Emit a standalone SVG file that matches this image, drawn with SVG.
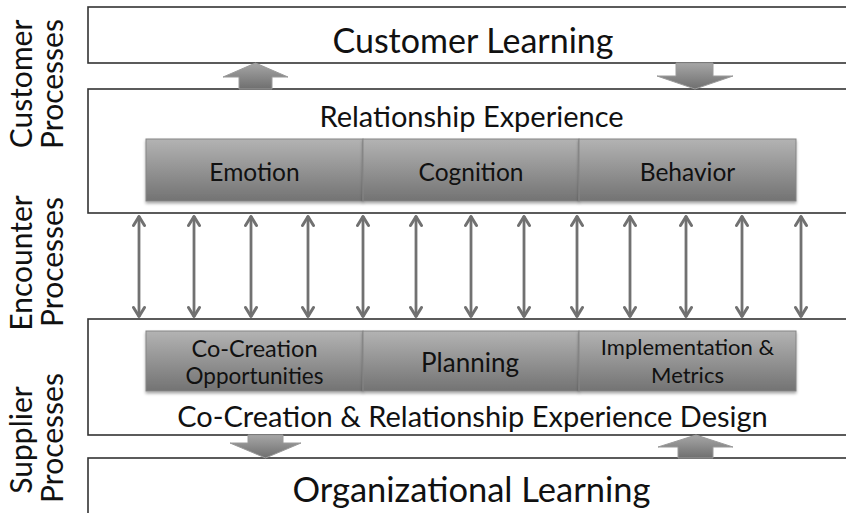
<svg xmlns="http://www.w3.org/2000/svg" width="846" height="513" viewBox="0 0 846 513">
<defs>
<linearGradient id="barGrad" x1="0" y1="0" x2="0" y2="1">
<stop offset="0" stop-color="#b3b3b3"/>
<stop offset="1" stop-color="#737373"/>
</linearGradient>
<linearGradient id="blockGrad" x1="0" y1="0" x2="0" y2="1">
<stop offset="0" stop-color="#a6a6a6"/>
<stop offset="1" stop-color="#6f6f6f"/>
</linearGradient>
<filter id="shadow" x="-5%" y="-10%" width="110%" height="130%">
<feDropShadow dx="0" dy="2" stdDeviation="1.5" flood-color="#000" flood-opacity="0.35"/>
</filter>
<marker id="ah" viewBox="0 0 14 14" refX="12.5" refY="7" markerWidth="14" markerHeight="14" markerUnits="userSpaceOnUse" orient="auto-start-reverse">
<path d="M3,1.5 L12,7 L3,12.5" fill="none" stroke="#717171" stroke-width="3" stroke-linecap="round" stroke-linejoin="round"/>
</marker>
</defs>
<style>
.frame{fill:#fff;stroke:#333;stroke-width:1.6}
.bar{fill:url(#barGrad);stroke:#858585;stroke-width:1}
.block{fill:url(#blockGrad);stroke:#9a9a9a;stroke-width:1}
.conn{stroke:#717171;stroke-width:2.8;fill:none}
text{font-family:Lato,"Liberation Sans",sans-serif;fill:#111;text-anchor:middle}
.side{font-size:30px}
.seg{font-size:24.5px}
</style>
<rect width="846" height="513" fill="#fff"/>

<g id="side-labels">
<text class="side" transform="translate(32,84) rotate(-90)">Customer</text>
<text class="side" transform="translate(63,84) rotate(-90)">Processes</text>
<text class="side" transform="translate(32,263) rotate(-90)">Encounter</text>
<text class="side" transform="translate(63,262) rotate(-90)">Processes</text>
<text class="side" transform="translate(32,440) rotate(-90)">Supplier</text>
<text class="side" transform="translate(63,438) rotate(-90)">Processes</text>
</g>

<g id="customer-learning">
<rect class="frame" x="88" y="7" width="770" height="56"/>
<text x="473" y="53" style="font-size:34px">Customer Learning</text>
</g>

<g id="relationship-experience">
<rect class="frame" x="88" y="89" width="770" height="124"/>
<text x="471.5" y="127" style="font-size:29px">Relationship Experience</text>
</g>

<g id="emotion">
<rect class="bar" x="146" y="139" width="217" height="62" filter="url(#shadow)"/>
<text class="seg" x="254.5" y="181">Emotion</text>
</g>
<g id="cognition">
<rect class="bar" x="363" y="139" width="216" height="62" filter="url(#shadow)"/>
<text class="seg" x="471" y="181">Cognition</text>
</g>
<g id="behavior">
<rect class="bar" x="579" y="139" width="217" height="62" filter="url(#shadow)"/>
<text class="seg" x="687.5" y="181">Behavior</text>
</g>

<g id="experience-design">
<rect class="frame" x="88" y="319" width="770" height="116"/>
<text x="472.5" y="427" style="font-size:29px">Co-Creation &amp; Relationship Experience Design</text>
</g>

<g id="co-creation-opportunities">
<rect class="bar" x="146" y="331" width="217" height="60" filter="url(#shadow)"/>
<text x="254.5" y="357" style="font-size:23.5px">Co-Creation</text>
<text x="254.5" y="384" style="font-size:22.5px">Opportunities</text>
</g>
<g id="planning">
<rect class="bar" x="363" y="331" width="216" height="60" filter="url(#shadow)"/>
<text x="470" y="372" style="font-size:26px">Planning</text>
</g>
<g id="implementation-metrics">
<rect class="bar" x="579" y="331" width="217" height="60" filter="url(#shadow)"/>
<text x="687.5" y="355" style="font-size:22px">Implementation &amp;</text>
<text x="687.5" y="383" style="font-size:22px">Metrics</text>
</g>

<g id="organizational-learning">
<rect class="frame" x="88" y="458" width="770" height="70"/>
<text x="471.5" y="502" style="font-size:34.5px">Organizational Learning</text>
</g>

<g id="connectors">
<path class="block" d="M239,89 L239,77 L223,77 L255.5,63 L288,77 L272,77 L272,89 Z"/>
<path class="block" d="M676,63 L676,76 L657,76 L695,89 L733,76 L713,76 L713,63 Z"/>
<path class="block" d="M248,435 L248,443 L230,443 L265.5,458 L301,443 L283,443 L283,435 Z"/>
<path class="block" d="M678,458 L678,447 L658,447 L696,435 L733,447 L713,447 L713,458 Z"/>
<line class="conn" x1="139" y1="216" x2="139" y2="317" marker-start="url(#ah)" marker-end="url(#ah)"/>
<line class="conn" x1="194" y1="216" x2="194" y2="317" marker-start="url(#ah)" marker-end="url(#ah)"/>
<line class="conn" x1="251" y1="216" x2="251" y2="317" marker-start="url(#ah)" marker-end="url(#ah)"/>
<line class="conn" x1="308" y1="216" x2="308" y2="317" marker-start="url(#ah)" marker-end="url(#ah)"/>
<line class="conn" x1="363" y1="216" x2="363" y2="317" marker-start="url(#ah)" marker-end="url(#ah)"/>
<line class="conn" x1="416" y1="216" x2="416" y2="317" marker-start="url(#ah)" marker-end="url(#ah)"/>
<line class="conn" x1="471" y1="216" x2="471" y2="317" marker-start="url(#ah)" marker-end="url(#ah)"/>
<line class="conn" x1="524" y1="216" x2="524" y2="317" marker-start="url(#ah)" marker-end="url(#ah)"/>
<line class="conn" x1="577" y1="216" x2="577" y2="317" marker-start="url(#ah)" marker-end="url(#ah)"/>
<line class="conn" x1="630" y1="216" x2="630" y2="317" marker-start="url(#ah)" marker-end="url(#ah)"/>
<line class="conn" x1="686" y1="216" x2="686" y2="317" marker-start="url(#ah)" marker-end="url(#ah)"/>
<line class="conn" x1="742" y1="216" x2="742" y2="317" marker-start="url(#ah)" marker-end="url(#ah)"/>
<line class="conn" x1="801" y1="216" x2="801" y2="317" marker-start="url(#ah)" marker-end="url(#ah)"/>
</g>
</svg>
